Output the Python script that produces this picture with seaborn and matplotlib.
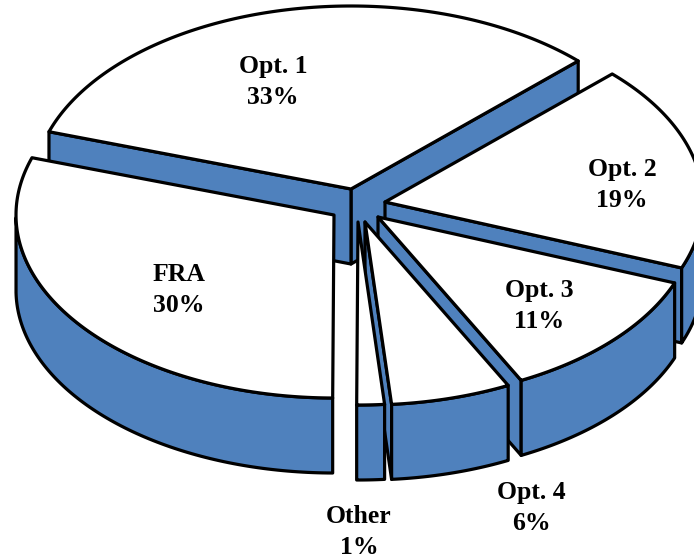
import numpy as np
import pandas as pd
import matplotlib
matplotlib.use("Agg")
import matplotlib.pyplot as plt
import seaborn as sns

# Data
labels = ["Opt. 1", "FRA", "Other", "Opt. 4", "Opt. 3", "Opt. 2"]
percent_labels = [33, 30, 1, 6, 11, 19]
shares = [32.6, 30.0, 1.4, 6.1, 11.7, 18.2]  # slice sizes

# Layout (pixels of the 694x560 canvas)
apex = {"Opt. 1": (351, 189), "FRA": (334, 215), "Other": (358, 222),
        "Opt. 4": (365, 222), "Opt. 3": (378, 217), "Opt. 2": (385, 202)}
label_pos = {"Opt. 1": (273, 82), "FRA": (179, 290), "Other": (359, 532),
             "Opt. 4": (531, 508), "Opt. 3": (539, 306), "Opt. 2": (622, 185)}
draw_order = ["Opt. 1", "Opt. 2", "FRA", "Opt. 3", "Opt. 4", "Other"]
RX, RY, DEPTH = 318, 183, 75
START = 44.4

sns.set_style("white")
blue = sns.color_palette(["#4F81BD"])[0]
df = pd.DataFrame({"label": labels, "share": shares, "shown": percent_labels})
df["span"] = df["share"] / df["share"].sum() * 360
df["t0"] = START + df["span"].cumsum().shift(fill_value=0)
df["t1"] = df["t0"] + df["span"]
df = df.set_index("label")

fig = plt.figure(figsize=(6.94, 5.6), dpi=100)
ax = fig.add_axes([0, 0, 1, 1])
ax.set_xlim(0, 694)
ax.set_ylim(560, 0)
ax.axis("off")
LW = 2.3
style = dict(edgecolor="black", linewidth=LW, joinstyle="round")


def rim(c, ts):
    r = np.radians(ts)
    return np.column_stack([c[0] + RX * np.cos(r), c[1] - RY * np.sin(r)])


def drop(p):
    return p + np.array([0, DEPTH])


for name in draw_order:
    t0, t1 = df.loc[name, "t0"], df.loc[name, "t1"]
    c = np.array(apex[name], float)
    ts = np.linspace(t0, t1, 120)
    arc = rim(c, ts)
    # radial faces: only those whose outward normal points towards the viewer
    for end, normal in ((arc[0], t0 - 90), (arc[-1], t1 + 90)):
        if np.sin(np.radians(normal)) < -0.01:
            face = np.array([c, end, drop(end), drop(c)])
            ax.fill(face[:, 0], face[:, 1], facecolor=blue, **style)
    # outer face: the part of the rim turned towards the viewer
    front = ts[np.sin(np.radians(ts)) < 0]
    if len(front) > 1:
        a = rim(c, front)
        poly = np.vstack([a, drop(a)[::-1]])
        ax.fill(poly[:, 0], poly[:, 1], facecolor=blue, **style)
    # top
    top = np.vstack([c, arc])
    ax.fill(top[:, 0], top[:, 1], facecolor="white", **style)

for name in labels:
    x, y = label_pos[name]
    ax.text(x, y, f"{name}\n{df.loc[name, 'shown']}%", ha="center", va="center",
            family="Liberation Serif", weight="bold", fontsize=18.5, linespacing=1.45,
            color="black")

fig.savefig("out.png", dpi=100)
